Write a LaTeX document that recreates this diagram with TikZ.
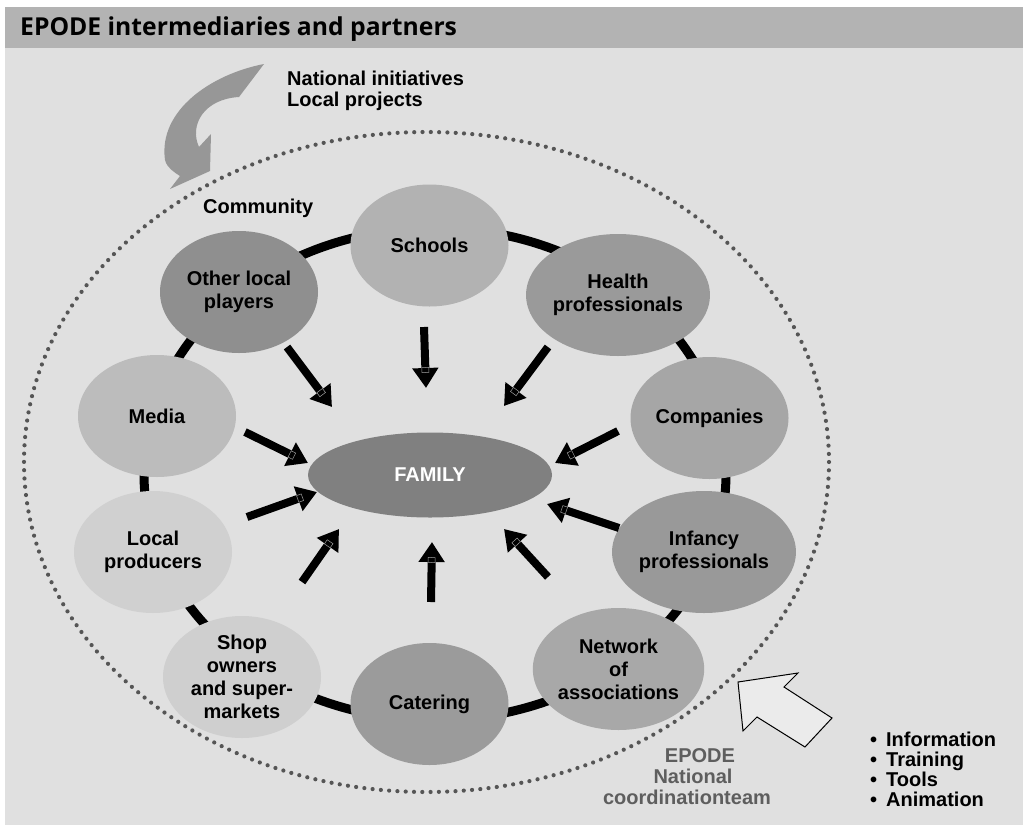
\documentclass[tikz,border=0pt]{standalone}
\usepackage{fontspec}
\setmainfont{Liberation Sans}
\newfontfamily\headfont{Open Sans}
\usetikzlibrary{shapes.geometric,arrows.meta,decorations.markings}
\definecolor{panelc}{HTML}{E0E0E0}
\definecolor{headc}{HTML}{B3B3B3}
\definecolor{otherc}{HTML}{8F8F8F}
\definecolor{schoolc}{HTML}{B2B2B2}
\definecolor{healthc}{HTML}{9A9A9A}
\definecolor{compc}{HTML}{A6A6A6}
\definecolor{infc}{HTML}{999999}
\definecolor{netc}{HTML}{A8A8A8}
\definecolor{catc}{HTML}{9B9B9B}
\definecolor{shopc}{HTML}{CFCFCF}
\definecolor{localc}{HTML}{D0D0D0}
\definecolor{mediac}{HTML}{BCBCBC}
\definecolor{famc}{HTML}{808080}
\definecolor{curvec}{HTML}{979797}
\definecolor{dotc}{HTML}{555555}
\definecolor{nctc}{HTML}{5E5E5E}
\definecolor{openc}{HTML}{EBEBEB}
\begin{document}
\begin{tikzpicture}[x=1pt,y=-1pt,
  txt/.style={font=\fontsize{20}{23}\selectfont\bfseries, inner sep=0pt},
  ringnode/.style={ellipse, minimum width=158pt, minimum height=122pt, inner sep=0pt,
    align=center, font=\fontsize{20}{23}\selectfont\bfseries},
  farrow/.style={line width=8pt, -{Triangle[width=25pt,length=20pt]},
    postaction={decorate},
    decoration={markings, mark=at position -18pt with {\draw[-, draw=gray!75, line width=0.5pt] (-2.5pt,-3.5pt) rectangle (2.5pt,3.5pt);}}},
  ringline/.style={line width=9pt, draw=black},
  dotline/.style={draw=dotc, line width=4.2pt, line cap=round, dash pattern=on 0pt off 8.3pt}
]
\useasboundingbox (0,0) rectangle (1023,825);
% panel and header
\fill[panelc] (5,7) rectangle (1023,825);
\fill[headc] (5,7) rectangle (1023,48);
\node[anchor=base west, inner sep=0pt, font=\headfont\fontsize{24.7}{28}\selectfont\bfseries] (title) at (20,35.5) {EPODE intermediaries and partners};

% ring and community boundary
\draw[ringline] (435,474) ellipse [x radius=291, y radius=246];
\draw[dotline] (426.5,462) ellipse [x radius=402.5, y radius=330];

% nodes
\node[ringnode, fill=schoolc] (schools) at (429.5,245.5) {Schools};
\node[ringnode, fill=healthc] (health) at (618,295) {Health\\professionals};
\node[ringnode, fill=compc] (companies) at (709.5,418) {Companies};
\node[ringnode, fill=infc] (infancy) at (704,552) {Infancy\\professionals};
\node[ringnode, fill=netc] (network) at (618.5,669) {Network\\of\\associations};
\node[ringnode, fill=catc] (catering) at (429.5,704) {Catering};
\node[ringnode, fill=shopc] (shop) at (242,677) {Shop\\owners\\and super-\\markets};
\node[ringnode, fill=localc] (local) at (153,552) {Local\\producers};
\node[ringnode, fill=mediac] (media) at (157,416) {Media};
\node[ringnode, fill=otherc] (other) at (239,292) {Other local\\players};
\node[ellipse, minimum width=244pt, minimum height=85pt, inner sep=0pt, fill=famc,
  text=white, font=\fontsize{20}{23}\selectfont\bfseries] (family) at (430,475) {FAMILY};

% arrow end points
\coordinate (o1) at (287,347);  \coordinate (o2) at (332,407);
\coordinate (s1) at (424,327);  \coordinate (s2) at (426,388);
\coordinate (h1) at (548,347);  \coordinate (h2) at (504,406);
\coordinate (c1) at (618,431);  \coordinate (c2) at (555,463);
\coordinate (i1) at (619,528);  \coordinate (i2) at (547,504);
\coordinate (n1) at (548,577);  \coordinate (n2) at (504,529);
\coordinate (t1) at (431,602);  \coordinate (t2) at (432,542);
\coordinate (p1) at (302,582);  \coordinate (p2) at (339,529);
\coordinate (l1) at (247,517);  \coordinate (l2) at (317,492);
\coordinate (m1) at (245,432);  \coordinate (m2) at (308,463);
\foreach \a/\b in {o1/o2,s1/s2,h1/h2,c1/c2,i1/i2,n1/n2,t1/t2,p1/p2,l1/l2,m1/m2}
  \draw[farrow] (\a) -- (\b);

% curved grey arrow
\fill[curvec] (264,64) .. controls (212,74) and (158,110) .. (165,160)
  .. controls (167,168) and (174,172) .. (180,176) -- (170,189) -- (210,171)
  -- (211,134) -- (199,147) .. controls (189,125) and (204,99) .. (239,97) -- cycle;

% open arrow
\filldraw[fill=openc, draw=black, line width=1pt, line join=miter]
  (738,682) -- (798,673) -- (784,687) -- (832,718) -- (805,747) -- (757,717) -- (743,731) -- cycle;

% texts
\node[txt, anchor=base west] (natinit) at (287,85) {National initiatives};
\node[txt, anchor=base west] (locproj) at (287,106) {Local projects};
\node[txt, anchor=base west] (community) at (203,213) {Community};
\node[txt, anchor=base, text=nctc] (nct1) at (700,762) {EPODE};
\node[txt, anchor=base, text=nctc] (nct2) at (693,783) {National};
\node[txt, anchor=base, text=nctc] (nct3) at (687,804) {coordinationteam};
\foreach \t [count=\k] in {Information,Training,Tools,Animation}
  \node[txt, anchor=base west] (bul\k) at (886,726+20*\k) {\llap{\textbullet\hspace{9pt}}\t};
\end{tikzpicture}
\end{document}
